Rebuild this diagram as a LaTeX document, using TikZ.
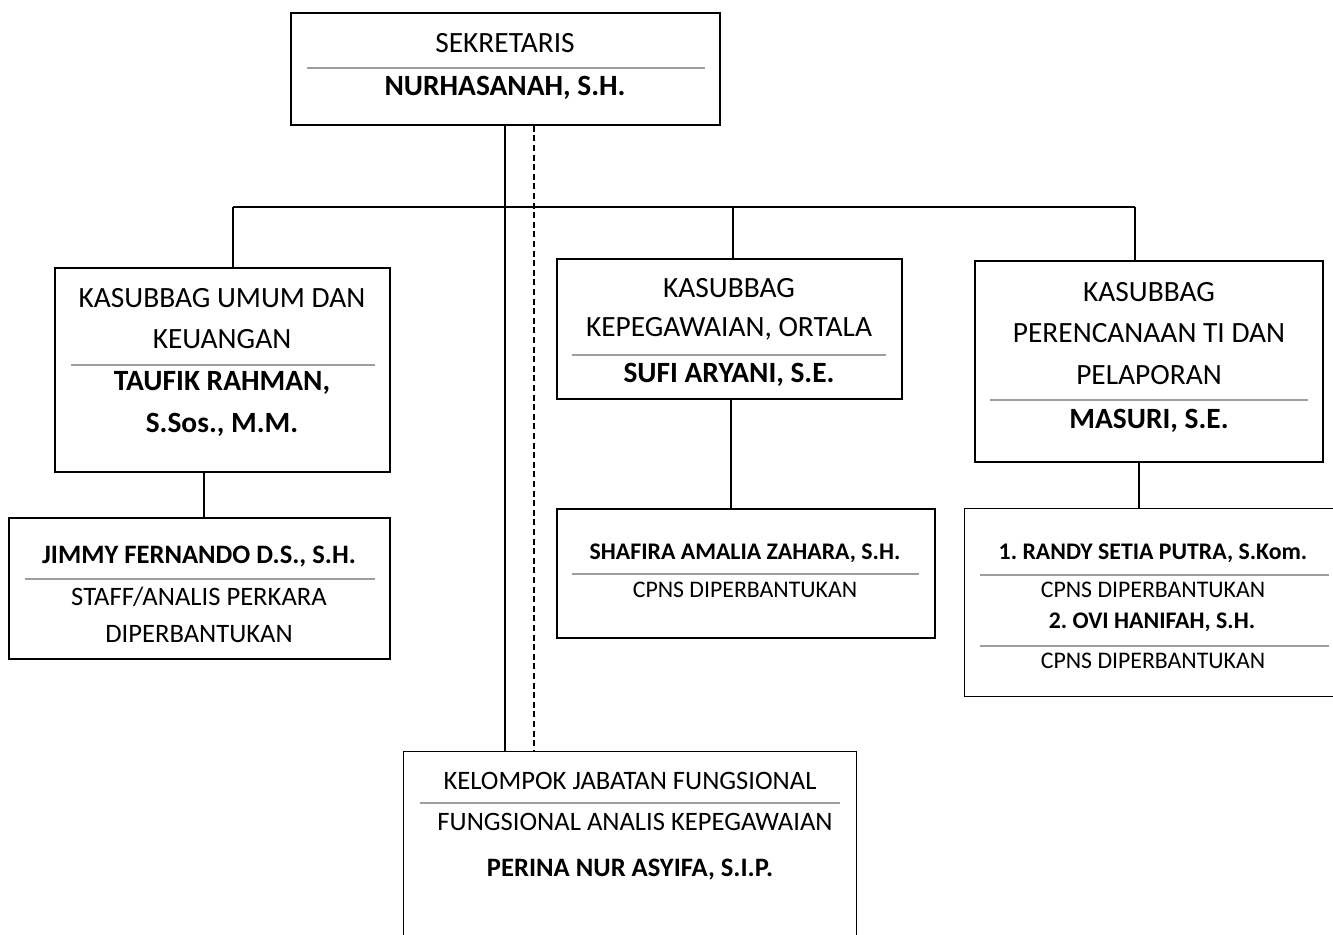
\documentclass[tikz,border=0pt]{standalone}
\usepackage{fontspec}
\setmainfont{Carlito}
\usetikzlibrary{fit}
\begin{document}
\frenchspacing
\begin{tikzpicture}[x=0.5pt,y=-0.5pt,
  box/.style={draw=black, line width=0.75pt, inner sep=0pt},
  openbox/.style={inner sep=0pt},
  txt/.style={inner sep=0pt, font=\fontsize{14.7}{16}\selectfont},
  bld/.style={inner sep=0pt, font=\fontsize{14.7}{16}\selectfont\bfseries},
  mtxt/.style={inner sep=0pt, font=\fontsize{13.3}{15}\selectfont},
  mbld/.style={inner sep=0pt, font=\fontsize{13.3}{15}\selectfont\bfseries},
  stxt/.style={inner sep=0pt, font=\fontsize{11.9}{13}\selectfont},
  sbld/.style={inner sep=0pt, font=\fontsize{11.9}{13}\selectfont\bfseries},
  sep/.style={draw=black!38, line width=1.1pt},
  conn/.style={draw=black, line width=0.75pt},
  dconn/.style={draw=black, line width=0.65pt, dash pattern=on 3pt off 1.8pt}]
\useasboundingbox (0,0) rectangle (1333,935);

% boxes
\node[box, fit={(291,13) (720,125)}] (sek) {};
\node[box, fit={(55,268) (390,472)}] (umum) {};
\node[box, fit={(9,518) (390,659)}] (jimmy) {};
\node[box, fit={(557,259) (902,399)}] (pegawai) {};
\node[box, fit={(557,509) (935,638)}] (shafira) {};
\node[box, fit={(975,261) (1323,462)}] (renc) {};
\node[openbox, fit={(965,509) (1340,696)}] (randy) {};
\draw[conn] (randy.north east) -- (randy.north west) -- (randy.south west) -- (randy.south east);
\node[openbox, fit={(404,752) (856,945)}] (fung) {};
\draw[conn] (fung.south west) -- (fung.north west) -- (fung.north east) -- (fung.south east);

% texts: Sekretaris
\node[txt] (s1) at (505,43) {SEKRETARIS};
\draw[sep] (307,68) -- (705,68);
\node[bld] (s2) at (505,88) {NURHASANAH, S.H.};

% Kasubbag Umum
\node[txt] (u1) at (222,298) {KASUBBAG UMUM DAN};
\node[txt] (u2) at (222,339) {KEUANGAN};
\draw[sep] (71,365) -- (375,365);
\node[bld] (u3) at (222,383) {TAUFIK RAHMAN,};
\node[bld] (u4) at (222,425) {S.Sos., M.M.};

% Jimmy
\node[mbld] (j1) at (199,557) {JIMMY FERNANDO D.S., S.H.};
\draw[sep] (25,579) -- (375,579);
\node[mtxt] (j2) at (199,597) {STAFF/ANALIS PERKARA};
\node[mtxt] (j3) at (199,634) {DIPERBANTUKAN};

% Kepegawaian
\node[txt] (p1) at (729,288) {KASUBBAG};
\node[txt] (p2) at (729,329) {KEPEGAWAIAN, ORTALA};
\draw[sep] (572,355) -- (886,355);
\node[bld] (p3) at (729,375) {SUFI ARYANI, S.E.};

% Shafira
\node[sbld] (f1) at (745,553) {SHAFIRA AMALIA ZAHARA, S.H.};
\draw[sep] (572,574) -- (919,574);
\node[stxt] (f2) at (745,590) {CPNS DIPERBANTUKAN};

% Perencanaan
\node[txt] (r1) at (1149,292) {KASUBBAG};
\node[txt] (r2) at (1149,333) {PERENCANAAN TI DAN};
\node[txt] (r3) at (1149,375) {PELAPORAN};
\draw[sep] (990,400) -- (1308,400);
\node[bld] (r4) at (1149,421) {MASURI, S.E.};

% Randy / Ovi
\node[sbld] (d1) at (1153,553) {1. RANDY SETIA PUTRA, S.Kom.};
\draw[sep] (980,575) -- (1329,575);
\node[stxt] (d2) at (1153,590) {CPNS DIPERBANTUKAN};
\node[sbld] (d3) at (1152,622) {2. OVI HANIFAH, S.H.};
\draw[sep] (980,646) -- (1329,646);
\node[stxt] (d4) at (1153,661) {CPNS DIPERBANTUKAN};

% Kelompok Jabatan Fungsional
\node[mtxt] (k1) at (630,781) {KELOMPOK JABATAN FUNGSIONAL};
\draw[sep] (420,803) -- (840,803);
\node[mtxt] (k2) at (635,822) {FUNGSIONAL ANALIS KEPEGAWAIAN};
\node[mbld] (k3) at (630,870) {PERINA NUR ASYIFA, S.I.P.};

% connectors
\coordinate (vmain) at (505,207);
\coordinate (vdash) at (534,207);
\coordinate (busL) at (233,207);
\coordinate (busM) at (733,207);
\coordinate (busR) at (1135,207);
\draw[conn] (sek.south -| vmain) -- (fung.north -| vmain);
\draw[dconn] (sek.south -| vdash) -- (fung.north -| vdash);
\draw[conn] (busL) -- (busR);
\draw[conn] (busL) -- (umum.north -| busL);
\draw[conn] (busM) -- (pegawai.north -| busM);
\draw[conn] (busR) -- (renc.north -| busR);
\coordinate (cu) at (204,0);
\coordinate (cp) at (731,0);
\coordinate (cr) at (1139,0);
\draw[conn] (umum.south -| cu) -- (jimmy.north -| cu);
\draw[conn] (pegawai.south -| cp) -- (shafira.north -| cp);
\draw[conn] (renc.south -| cr) -- (randy.north -| cr);
\end{tikzpicture}
\end{document}
